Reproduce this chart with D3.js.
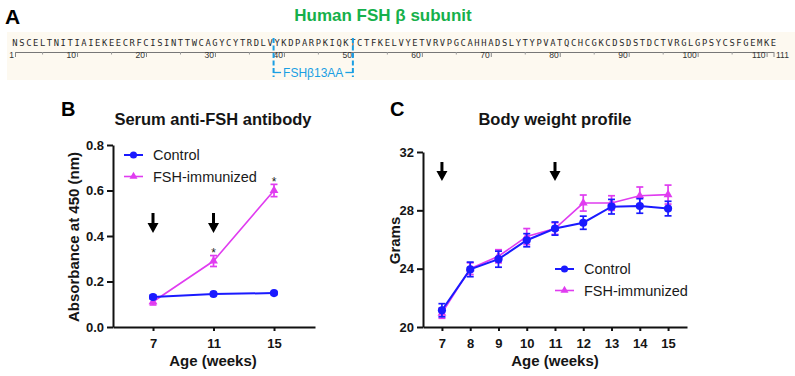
<!DOCTYPE html>
<html>
<head>
<meta charset="utf-8">
<script src="https://cdnjs.cloudflare.com/ajax/libs/d3/7.8.5/d3.min.js"></script>
<style>
body { margin: 0; background: #fff; }
svg { display: block; font-family: "Liberation Sans", Arial, sans-serif; }
</style>
</head>
<body>
<svg id="chart"></svg>
<script>
// ---- panel A: human FSH beta sequence ----
let sequence = 'NSCELTNITIAIEKEECRFCISINTTWCAGYCYTRDLVYKDPARPKIQKTCTFKELVYETVRVPGCAHHADSLYTYPVATQCHCGKCDSDSTDCTVRGLGPSYCSFGEMKE'.split('')
let seqTicks = [1, 10, 20, 30, 40, 50, 60, 70, 80, 90, 100, 110, 111]
let seqMinorTicks = [5, 15, 25, 35, 45, 55, 65, 75, 85, 95, 105]
let peptideBounds = [38.5, 50] // dashed borders of the 13 AA peptide
let peptideLabel = 'FSHβ13AA'

// ---- panel B: serum anti-FSH antibody ----
let antibodyWeeks = [7, 11, 15]
let antibodyControl = [0.132, 0.145, 0.149]
let antibodyControlErr = [0.008, 0.006, 0.006]
let antibodyFsh = [0.111, 0.29, 0.6]
let antibodyFshErr = [0.014, 0.024, 0.027]
let antibodySignif = [false, true, true]
let antibodyTicks = [0, 0.2, 0.4, 0.6, 0.8]

// ---- panel C: body weight ----
let weightWeeks = [7, 8, 9, 10, 11, 12, 13, 14, 15]
let weightControl = [21.15, 23.95, 24.65, 25.95, 26.75, 27.15, 28.25, 28.3, 28.12]
let weightControlErr = [0.45, 0.5, 0.55, 0.45, 0.45, 0.45, 0.5, 0.5, 0.5]
let weightFsh = [20.95, 24.0, 24.85, 26.2, 26.75, 28.5, 28.5, 29.0, 29.08]
let weightFshErr = [0.35, 0.4, 0.45, 0.55, 0.4, 0.55, 0.5, 0.6, 0.65]
let weightTicks = [20, 24, 28, 32]

let boostWeeks = [7, 11] // immunization arrows

let width = 795
let height = 376
let blue = '#1a1aff'
let magenta = '#e03cf0'
let cyan = '#1a9fe3'

let svg = d3.select('#chart')

const drawCanvas = () => {
    svg.attr('width', width)
    svg.attr('height', height)
}

const drawSequence = () => {
    let seqScale = d3.scaleLinear().domain([1, 111]).range([15, 773.5])

    svg.append('text')
        .attr('x', 5).attr('y', 24)
        .attr('font-size', 21).attr('font-weight', 'bold')
        .text('A')

    svg.append('text')
        .attr('x', 383).attr('y', 21)
        .attr('text-anchor', 'middle')
        .attr('font-size', 17).attr('font-weight', 'bold')
        .attr('fill', '#16b04b')
        .text('Human FSH β subunit')

    svg.append('rect')
        .attr('x', 7).attr('y', 32)
        .attr('width', 788).attr('height', 48)
        .attr('fill', '#fdf9f0')

    svg.selectAll('.res')
        .data(sequence)
        .enter()
        .append('text')
        .attr('class', 'res')
        .attr('x', (d, i) => seqScale(i + 1))
        .attr('y', 45.5)
        .attr('text-anchor', 'middle')
        .attr('font-family', '"DejaVu Sans Mono", monospace')
        .attr('font-size', 8.8)
        .attr('fill', '#2a2a2a')
        .text(d => d)

    let seqAxis = d3.axisBottom(seqScale)
        .tickValues(seqTicks)
        .tickSize(5)
        .tickSizeOuter(0)
    let ga = svg.append('g')
        .attr('transform', 'translate(0, 52)')
        .call(seqAxis)
    ga.select('.domain').attr('stroke', '#777')
    ga.selectAll('.tick line').attr('stroke', '#888')
    ga.selectAll('.tick text')
        .attr('font-family', '"Liberation Sans", Arial, sans-serif')
        .attr('font-size', 8.5)
        .attr('fill', '#333')
        .attr('y', 0)
        .attr('dy', '0.71em')
        .attr('text-anchor', d => d === 111 ? 'start' : 'end')
        .attr('x', d => d === 111 ? 2 : -1.5)

    svg.selectAll('.minor')
        .data(seqMinorTicks)
        .enter()
        .append('line')
        .attr('x1', d => seqScale(d)).attr('x2', d => seqScale(d))
        .attr('y1', 52).attr('y2', 54.5)
        .attr('stroke', '#999')

    // peptide box
    let px = peptideBounds.map(d => seqScale(d))
    svg.selectAll('.pep')
        .data(px)
        .enter()
        .append('line')
        .attr('x1', d => d).attr('x2', d => d)
        .attr('y1', 38).attr('y2', 77)
        .attr('stroke', cyan)
        .attr('stroke-width', 2)
        .attr('stroke-dasharray', '5,2.5')

    let mid = (px[0] + px[1]) / 2
    let lbl = svg.append('text')
        .attr('x', mid).attr('y', 76.5)
        .attr('text-anchor', 'middle')
        .attr('font-size', 12)
        .attr('fill', cyan)
        .text(peptideLabel)
    let half = lbl.node().getComputedTextLength() / 2
    svg.append('line')
        .attr('x1', px[0]).attr('x2', mid - half - 2)
        .attr('y1', 72.5).attr('y2', 72.5)
        .attr('stroke', cyan).attr('stroke-width', 1.3)
    svg.append('line')
        .attr('x1', mid + half + 2).attr('x2', px[1])
        .attr('y1', 72.5).attr('y2', 72.5)
        .attr('stroke', cyan).attr('stroke-width', 1.3)
}

const styleAxis = (g) => {
    g.select('.domain').attr('stroke', '#111').attr('stroke-width', 2)
    g.selectAll('.tick line').attr('stroke', '#111').attr('stroke-width', 2)
    g.selectAll('.tick text')
        .attr('font-family', '"Liberation Sans", Arial, sans-serif')
        .attr('font-size', 13)
        .attr('font-weight', 'bold')
        .attr('fill', '#151515')
}

const drawSeries = (g, xScale, yScale, weeks, vals, errs, color, shape, lw) => {
    let pts = weeks.map((w, i) => ({ w: w, v: vals[i], e: errs[i] }))
    g.append('path')
        .datum(pts)
        .attr('fill', 'none')
        .attr('stroke', color)
        .attr('stroke-width', lw)
        .attr('d', d3.line().x(d => xScale(d.w)).y(d => yScale(d.v)))

    let eb = g.selectAll(null)
        .data(pts)
        .enter()
        .append('g')
        .attr('stroke', color)
        .attr('stroke-width', 1.7)
    eb.append('line')
        .attr('x1', d => xScale(d.w)).attr('x2', d => xScale(d.w))
        .attr('y1', d => yScale(d.v - d.e)).attr('y2', d => yScale(d.v + d.e))
    eb.append('line')
        .attr('x1', d => xScale(d.w) - 3.5).attr('x2', d => xScale(d.w) + 3.5)
        .attr('y1', d => yScale(d.v + d.e)).attr('y2', d => yScale(d.v + d.e))
    eb.append('line')
        .attr('x1', d => xScale(d.w) - 3.5).attr('x2', d => xScale(d.w) + 3.5)
        .attr('y1', d => yScale(d.v - d.e)).attr('y2', d => yScale(d.v - d.e))

    g.selectAll(null)
        .data(pts)
        .enter()
        .append('path')
        .attr('transform', d => `translate(${xScale(d.w)}, ${yScale(d.v)})`)
        .attr('d', d3.symbol().type(shape).size(shape === d3.symbolCircle ? 52 : 34))
        .attr('fill', color)
    return pts
}

const drawLegend = (g, lx, ly, gap) => {
    let items = [
        { name: 'Control', color: blue, shape: d3.symbolCircle, lw: 2 },
        { name: 'FSH-immunized', color: magenta, shape: d3.symbolTriangle, lw: 1.6 }
    ]
    let it = g.selectAll(null)
        .data(items)
        .enter()
        .append('g')
        .attr('transform', (d, i) => `translate(${lx}, ${ly + i * gap})`)
    it.append('line')
        .attr('x1', 0).attr('x2', 19)
        .attr('stroke', d => d.color)
        .attr('stroke-width', d => d.lw)
    it.append('path')
        .attr('transform', 'translate(9.5, 0)')
        .attr('d', d => d3.symbol().type(d.shape).size(d.shape === d3.symbolCircle ? 40 : 28)())
        .attr('fill', d => d.color)
    it.append('text')
        .attr('x', 29).attr('y', 5)
        .attr('font-size', 14.5)
        .attr('fill', '#1a1a1a')
        .text(d => d.name)
}

const drawArrows = (g, xScale, top, bottom) => {
    g.selectAll(null)
        .data(boostWeeks)
        .enter()
        .append('path')
        .attr('d', w => {
            let x = xScale(w)
            let hy = bottom - 10
            return `M${x - 1.5},${top} L${x + 1.5},${top} L${x + 1.5},${hy} L${x + 5.5},${hy} L${x},${bottom} L${x - 5.5},${hy} L${x - 1.5},${hy} Z`
        })
        .attr('fill', '#000')
}

const drawPanel = (opts) => {
    let g = svg.append('g')
    let xScale = d3.scaleLinear().domain(opts.xDomain).range(opts.xRange)
    let yScale = d3.scaleLinear().domain(opts.yDomain).range(opts.yRange)

    g.append('text')
        .attr('x', opts.letterX).attr('y', 116)
        .attr('font-size', 20).attr('font-weight', 'bold')
        .text(opts.letter)
    g.append('text')
        .attr('x', opts.titleX).attr('y', 124.5)
        .attr('text-anchor', 'middle')
        .attr('font-size', 16.5).attr('font-weight', 'bold')
        .attr('fill', '#151515')
        .text(opts.title)

    let xAxis = d3.axisBottom(xScale)
        .tickValues(opts.weeks)
        .tickSize(4)
        .tickPadding(8)
        .tickSizeOuter(0)
        .tickFormat(d3.format('d'))
    g.append('g')
        .attr('transform', `translate(0, ${opts.yRange[0]})`)
        .call(xAxis)
        .call(styleAxis)

    let yAxis = d3.axisLeft(yScale)
        .tickValues(opts.yTicks)
        .tickSize(6)
        .tickPadding(3)
        .tickSizeOuter(0)
        .tickFormat(opts.yFormat)
    g.append('g')
        .attr('transform', `translate(${opts.xRange[0]}, 0)`)
        .call(yAxis)
        .call(styleAxis)

    g.append('text')
        .attr('transform', `translate(${opts.yTitleX}, ${(opts.yRange[0] + opts.yRange[1]) / 2 + 1}) rotate(-90)`)
        .attr('text-anchor', 'middle')
        .attr('font-size', 15).attr('font-weight', 'bold')
        .attr('fill', '#151515')
        .text(opts.yTitle)
    g.append('text')
        .attr('x', (opts.xRange[0] + opts.xRange[1]) / 2 + opts.xTitleShift).attr('y', 366)
        .attr('text-anchor', 'middle')
        .attr('font-size', 15).attr('font-weight', 'bold')
        .attr('fill', '#151515')
        .text('Age (weeks)')

    drawArrows(g, xScale, opts.arrowTop, opts.arrowBottom)
    let fshPts = drawSeries(g, xScale, yScale, opts.weeks, opts.fsh, opts.fshErr, magenta, d3.symbolTriangle, 1.6)
    drawSeries(g, xScale, yScale, opts.weeks, opts.control, opts.controlErr, blue, d3.symbolCircle, 2)

    if (opts.signif) {
        g.selectAll(null)
            .data(fshPts.filter((d, i) => opts.signif[i]))
            .enter()
            .append('text')
            .attr('x', d => xScale(d.w))
            .attr('y', d => yScale(d.v + d.e) + 1.5)
            .attr('text-anchor', 'middle')
            .attr('font-size', 12)
            .attr('fill', '#222')
            .text('*')
    }
    drawLegend(g, opts.legendX, opts.legendY, 21.5)
}

drawCanvas()
drawSequence()
drawPanel({
    letter: 'B', letterX: 61, title: 'Serum anti-FSH antibody', titleX: 213,
    xDomain: [4.355, 17.71], xRange: [113, 315],
    yDomain: [0, 0.8], yRange: [327, 145],
    weeks: antibodyWeeks, yTicks: antibodyTicks, yFormat: d3.format('.1f'),
    control: antibodyControl, controlErr: antibodyControlErr,
    fsh: antibodyFsh, fshErr: antibodyFshErr, signif: antibodySignif,
    yTitle: 'Absorbance at 450 (nm)', yTitleX: 79, xTitleShift: -1,
    arrowTop: 213, arrowBottom: 233,
    legendX: 124, legendY: 155
})
drawPanel({
    letter: 'C', letterX: 390, title: 'Body weight profile', titleX: 555,
    xDomain: [6.33, 15.67], xRange: [423, 687],
    yDomain: [20, 32], yRange: [327, 152],
    weeks: weightWeeks, yTicks: weightTicks, yFormat: d3.format('d'),
    control: weightControl, controlErr: weightControlErr,
    fsh: weightFsh, fshErr: weightFshErr, signif: null,
    yTitle: 'Grams', yTitleX: 400, xTitleShift: 0,
    arrowTop: 162, arrowBottom: 181,
    legendX: 555, legendY: 269
})
</script>
</body>
</html>
